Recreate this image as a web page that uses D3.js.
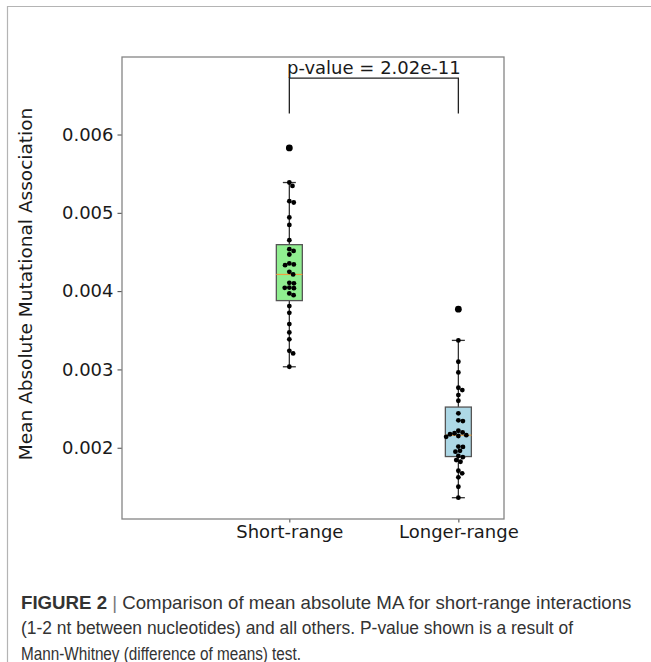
<!DOCTYPE html>
<html>
<head>
<meta charset="utf-8">
<script src="https://cdn.jsdelivr.net/npm/d3@7"></script>
<style>
  body { margin: 0; background: #fff; }
  svg { display: block; }
</style>
</head>
<body>
<svg id="chart" width="651" height="662"></svg>
<script>
// data
const groups = ['Short-range', 'Longer-range'];
const shortRange = [0.005829, 0.005387, 0.005344, 0.005149, 0.005132, 0.004941, 0.004846, 0.004651,
  0.004536, 0.004514, 0.004468, 0.004354, 0.004341, 0.004332, 0.004246, 0.004213, 0.004106, 0.004100,
  0.004045, 0.004042, 0.004038, 0.003971, 0.003949, 0.003809, 0.003723, 0.003579, 0.003473, 0.003384,
  0.003238, 0.003205, 0.003034];
const longerRange = [0.003770, 0.003371, 0.003098, 0.002962, 0.002766, 0.002736, 0.002673, 0.002600,
  0.002439, 0.002350, 0.002340, 0.002217, 0.002195, 0.002185, 0.002172, 0.002160, 0.002150, 0.002140,
  0.002015, 0.002010, 0.001960, 0.001950, 0.001895, 0.001880, 0.001843, 0.001821, 0.001706, 0.001673,
  0.001622, 0.001502, 0.001362];
const groupColors = ['#90ee90', '#add8e6'];
const yTicks = [0.002, 0.003, 0.004, 0.005, 0.006];
const yDomain = [0.00109, 0.00699];
const xDomain = [0.01, 2.27];
const pValueLabel = 'p-value = 2.02e-11';
const bracketLevels = [0.00627, 0.00672];
const captionLines = [
  [['FIGURE 2', true], [' | ', false, '#777'], ['Comparison of mean absolute MA for short-range interactions', false]],
  [['(1-2 nt between nucleotides) and all others. P-value shown is a result of', false]],
  [['Mann-Whitney (difference of means) test.', false]]
];

const svg = d3.select('#chart');
const font = 'DejaVu Sans, sans-serif';

// page frame
svg.append('path')
  .attr('d', 'M7.5,662 V6.5 H651')
  .attr('fill', 'none').attr('stroke', '#b4b4b4').attr('stroke-width', 1.2);

const plotL = 122, plotR = 504, plotT = 57, plotB = 519;
const x = d3.scaleLinear().domain(xDomain).range([plotL, plotR]);
const y = d3.scaleLinear().domain(yDomain).range([plotB, plotT]);

// axes
const yAxis = svg.append('g')
  .attr('transform', `translate(${plotL},0)`)
  .call(d3.axisLeft(y).tickValues(yTicks).tickFormat(d3.format('.3f')).tickSize(4.5).tickPadding(4));
const xAxis = svg.append('g')
  .attr('transform', `translate(0,${plotB})`)
  .call(d3.axisBottom(x).tickValues([1, 2]).tickFormat(i => groups[i - 1]).tickSize(3.5).tickPadding(2.5));
[yAxis, xAxis].forEach(a => {
  a.select('.domain').remove();
  a.selectAll('line').attr('stroke', '#444');
  a.selectAll('text').attr('font-family', font).attr('font-size', 18).attr('fill', '#1a1a1a');
});

svg.append('rect')
  .attr('x', plotL).attr('y', plotT)
  .attr('width', plotR - plotL).attr('height', plotB - plotT)
  .attr('fill', 'none').attr('stroke', '#858585').attr('stroke-width', 1.3);

svg.append('text')
  .attr('transform', `translate(32,${(plotT + plotB) / 2 - 4}) rotate(-90)`)
  .attr('text-anchor', 'middle')
  .attr('font-family', font).attr('font-size', 18.5).attr('fill', '#1a1a1a')
  .text('Mean Absolute Mutational Association');

// simple beeswarm so dots don't overlap
function swarm(values, d) {
  const pts = values.map(v => ({ v, py: y(v) })).sort((a, b) => a.py - b.py);
  const placed = [];
  pts.forEach(p => {
    const cands = [0];
    placed.forEach(q => {
      const dy = Math.abs(q.py - p.py);
      if (dy < d) {
        const dx = Math.sqrt(d * d - dy * dy);
        cands.push(q.dx + dx, q.dx - dx);
      }
    });
    cands.sort((a, b) => Math.abs(a) - Math.abs(b));
    p.dx = cands.find(c => placed.every(q => (q.dx - c) ** 2 + (q.py - p.py) ** 2 >= d * d - 0.01));
    placed.push(p);
  });
  return pts;
}

const boxW = 26;
[shortRange, longerRange].forEach((vals, i) => {
  const cx = x(i + 1);
  const s = vals.slice().sort(d3.ascending);
  const q1 = d3.quantile(s, 0.25), med = d3.quantile(s, 0.5), q3 = d3.quantile(s, 0.75);
  const iqr = q3 - q1;
  const lo = d3.min(s.filter(v => v >= q1 - 1.5 * iqr));
  const hi = d3.max(s.filter(v => v <= q3 + 1.5 * iqr));
  const fliers = s.filter(v => v < lo || v > hi);
  const g = svg.append('g');

  g.append('line').attr('x1', cx).attr('x2', cx).attr('y1', y(q3)).attr('y2', y(hi))
    .attr('stroke', '#333').attr('stroke-width', 1.3);
  g.append('line').attr('x1', cx).attr('x2', cx).attr('y1', y(q1)).attr('y2', y(lo))
    .attr('stroke', '#333').attr('stroke-width', 1.3);
  [lo, hi].forEach(v => g.append('line')
    .attr('x1', cx - boxW / 4).attr('x2', cx + boxW / 4).attr('y1', y(v)).attr('y2', y(v))
    .attr('stroke', '#333').attr('stroke-width', 1.3));
  g.append('rect')
    .attr('x', cx - boxW / 2).attr('y', y(q3))
    .attr('width', boxW).attr('height', y(q1) - y(q3))
    .attr('fill', groupColors[i]).attr('stroke', '#555').attr('stroke-width', 1.3);
  g.append('line').attr('x1', cx - boxW / 2).attr('x2', cx + boxW / 2).attr('y1', y(med)).attr('y2', y(med))
    .attr('stroke', '#f0a040').attr('stroke-width', 1.2);

  g.selectAll('circle.flier').data(fliers).join('circle')
    .attr('class', 'flier').attr('cx', cx).attr('cy', d => y(d)).attr('r', 3.4).attr('fill', '#000');
  g.selectAll('circle.pt').data(swarm(vals, 4.6)).join('circle')
    .attr('class', 'pt').attr('cx', d => cx + d.dx).attr('cy', d => d.py).attr('r', 2.4).attr('fill', '#000');
});

// significance bracket
svg.append('path')
  .attr('d', `M${x(1)},${y(bracketLevels[0])} V${y(bracketLevels[1])} H${x(2)} V${y(bracketLevels[0])}`)
  .attr('fill', 'none').attr('stroke', '#222').attr('stroke-width', 1.3);
svg.append('text')
  .attr('x', (x(1) + x(2)) / 2).attr('y', y(bracketLevels[1]) - 4)
  .attr('text-anchor', 'middle')
  .attr('font-family', font).attr('font-size', 18).attr('fill', '#1a1a1a')
  .text(pValueLabel);

// caption: font sized from the first line, the narrower set of lines 2-3 fitted to the figure
const capBase = [608.5, 634, 659.5];
const capWidths = [611, 552, 280];
const capTexts = captionLines.map((parts, i) => {
  const t = svg.append('text')
    .attr('x', 21).attr('y', capBase[i])
    .attr('font-family', 'Liberation Sans, Arial, sans-serif').attr('font-size', 17)
    .attr('fill', '#333');
  parts.forEach(p => t.append('tspan')
    .attr('font-weight', p[1] ? 'bold' : 'normal')
    .attr('fill', p[2] || '#333')
    .text(p[0]));
  return t;
});
const w1 = capTexts[0].node().getComputedTextLength();
const capSize = 17 * capWidths[0] / w1;
capTexts.forEach((t, i) => {
  t.attr('font-size', capSize);
  if (i > 0) t.attr('textLength', capWidths[i]).attr('lengthAdjust', 'spacingAndGlyphs');
});
</script>
</body>
</html>
